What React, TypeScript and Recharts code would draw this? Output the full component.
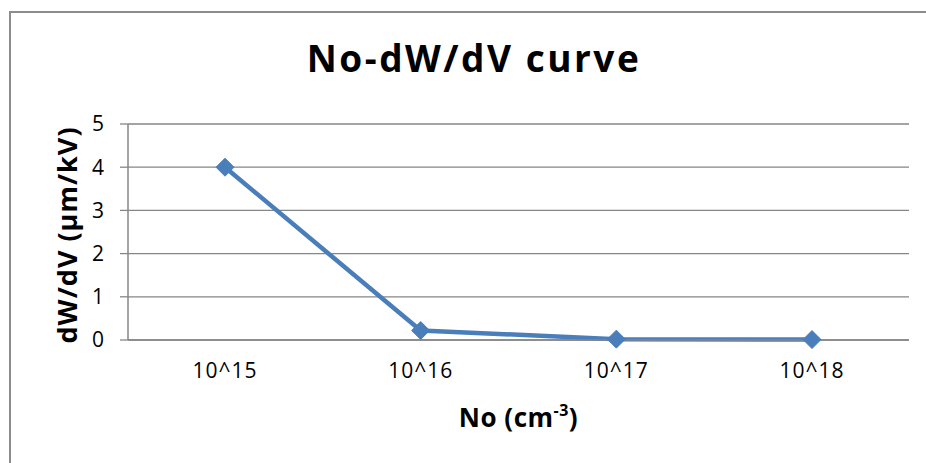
import React from 'react';
import { LineChart, Line, XAxis, YAxis, CartesianGrid, Label } from 'recharts';

// Doping concentration categories and the slope values
const categories = ['10^15', '10^16', '10^17', '10^18'];
const dwdvValues = [4, 0.22, 0.02, 0.01];
const yTicks = [0, 1, 2, 3, 4, 5];

const FONT = '"Open Sans", "Noto Sans", sans-serif';
const GRID = '#868686';
const SERIES = '#4A7EBB';

const data = categories.map((name, i) => ({ name, value: dwdvValues[i] }));

const Diamond = (props: any) => {
  const { cx, cy } = props;
  if (cx == null || cy == null) return null;
  const r = 9;
  return (
    <polygon
      points={`${cx},${cy - r} ${cx + r},${cy} ${cx},${cy + r} ${cx - r},${cy}`}
      fill={SERIES}
      stroke={SERIES}
      strokeWidth={1}
    />
  );
};

export default function App() {
  return (
    <div style={{ position: 'absolute', left: 0, top: 0, width: 926, height: 463, overflow: 'hidden', background: '#fff' }}>
      {/* outer chart border, right and bottom edges fall outside the frame */}
      <div
        style={{
          position: 'absolute',
          left: 9,
          top: 11,
          width: 940,
          height: 470,
          border: '2px solid #8c8c8c',
          boxSizing: 'border-box',
        }}
      />
      <div
        style={{
          position: 'absolute',
          left: 0,
          top: 35,
          width: 948,
          textAlign: 'center',
          fontFamily: FONT,
          fontWeight: 700,
          fontSize: 37,
          lineHeight: '46px',
          color: '#000',
          letterSpacing: 2.5,
        }}
      >
        No-dW/dV curve
      </div>
      <div style={{ position: 'absolute', left: 0, top: 0 }}>
        <LineChart
          width={926}
          height={463}
          data={data}
          margin={{ top: 124, right: 17, bottom: 63, left: 88 }}
        >
          <CartesianGrid vertical={false} stroke={GRID} strokeWidth={1.3} />
          <XAxis
            dataKey="name"
            height={60}
            padding={{ left: 97, right: 97 }}
            axisLine={{ stroke: GRID, strokeWidth: 1.5 }}
            tickLine={false}
            tick={{ fill: '#000', fontSize: 21, fontFamily: FONT, letterSpacing: 1 }}
            tickMargin={17}
          >
            <Label
              content={(p: any) => {
                const vb = p.viewBox;
                const x = vb.x + vb.width / 2;
                const y = 427;
                return (
                  <text x={x} y={y} textAnchor="middle" fontFamily={FONT} fontWeight={700} fontSize={26} letterSpacing={0.5} fill="#000">
                    No (cm
                    <tspan dy={-11} fontSize={16}>-3</tspan>
                    <tspan dy={11}>)</tspan>
                  </text>
                );
              }}
            />
          </XAxis>
          <YAxis
            width={40}
            domain={[0, 5]}
            ticks={yTicks}
            interval={0}
            axisLine={{ stroke: GRID, strokeWidth: 1.5 }}
            tickLine={{ stroke: GRID, strokeWidth: 1.3 }}
            tickSize={8}
            tickMargin={16}
            tick={{ fill: '#000', fontSize: 21, fontFamily: FONT }}
          >
            <Label
              content={(p: any) => {
                const vb = p.viewBox;
                const cy = vb.y + vb.height / 2 + 3;
                const cx = 66;
                return (
                  <text
                    x={cx}
                    y={cy}
                    transform={`rotate(-90 ${cx} ${cy})`}
                    textAnchor="middle"
                    dominantBaseline="central"
                    fontFamily={FONT}
                    fontWeight={700}
                    fontSize={27}
                    letterSpacing={1}
                    fill="#000"
                  >
                    dW/dV (µm/kV)
                  </text>
                );
              }}
            />
          </YAxis>
          <Line
            type="linear"
            dataKey="value"
            stroke={SERIES}
            strokeWidth={4.5}
            dot={<Diamond />}
            activeDot={false}
            isAnimationActive={false}
          />
        </LineChart>
      </div>
    </div>
  );
}
